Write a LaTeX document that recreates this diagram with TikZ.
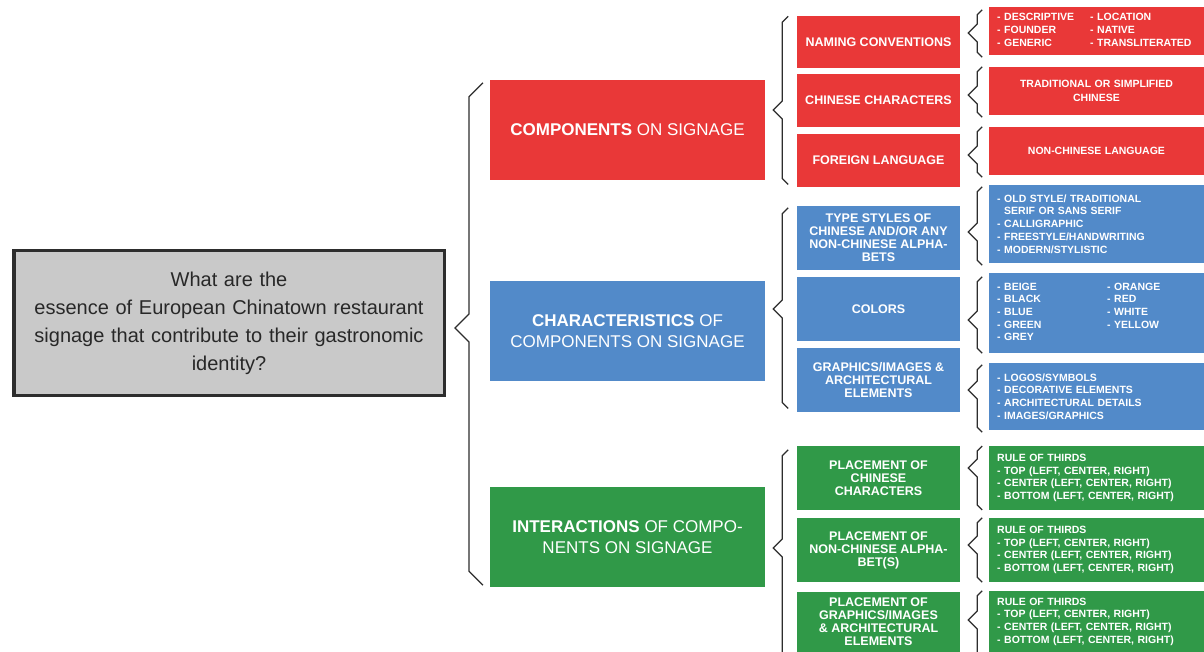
\documentclass[tikz,border=0pt]{standalone}
\usepackage{fontspec}
\setmainfont{Liberation Sans}
\usetikzlibrary{calc}
\definecolor{cred}{RGB}{233,56,56}
\definecolor{cblue}{RGB}{82,138,201}
\definecolor{cgreen}{RGB}{48,153,72}
\definecolor{cgray}{RGB}{201,201,201}
\definecolor{cline}{RGB}{45,45,45}
\definecolor{ctext}{RGB}{40,40,40}
% brace: top coord, tip coord, bottom coord, tip width, end width
\newcommand\brc[5]{%
  \draw[brcline] let \p1=(#1), \p2=(#2), \p3=(#3) in
   (\x2+#4pt+#5pt,\y1) -- (\x2+#4pt,\y1-#5pt) -- (\x2+#4pt,\y2+#4pt) -- (\x2,\y2)
   -- (\x2+#4pt,\y2-#4pt) -- (\x2+#4pt,\y3+#5pt) -- (\x2+#4pt+#5pt,\y3);}
\begin{document}
\begin{tikzpicture}[x=1pt,y=-1pt,
  brcline/.style={draw=cline,line width=1.3pt,line join=miter},
  qbox/.style={draw=cline,line width=3.5pt,fill=cgray,minimum width=430.5pt,minimum height=144.5pt,
    text width=420pt,align=center,inner sep=0pt,text=ctext,font=\fontsize{20}{28}\selectfont},
  lone/.style={minimum width=275pt,minimum height=100pt,inner sep=0pt,text=white,align=center,
    font=\fontsize{17}{21}\selectfont},
  ltwo/.style={minimum width=163pt,inner sep=0pt,text=white,align=center,
    font=\bfseries\fontsize{12.5}{13}\selectfont},
  lthree/.style={anchor=west,inner xsep=8.5pt,inner ysep=0pt,text width=198.5pt,align=left,text=white,
    font=\bfseries\fontsize{10.5}{12.7}\selectfont},
  lthreec/.style={lthree,align=center},
]
\useasboundingbox[fill=white] (0,0) rectangle (1204,652);

% question
\node[qbox] (q) at (229,323) {What are the\\essence of European Chinatown restaurant\\signage that contribute to their gastronomic\\identity?};

% level 1
\node[lone,fill=cred] (comp) at (627.5,130) {\textbf{COMPONENTS} ON SIGNAGE};
\node[lone,fill=cblue] (char) at (627.5,331) {\textbf{CHARACTERISTICS} OF\\COMPONENTS ON SIGNAGE};
\node[lone,fill=cgreen] (inter) at (627.5,537) {\textbf{INTERACTIONS} OF COMPO-\\NENTS ON SIGNAGE};

% level 2
\node[ltwo,fill=cred,minimum height=52pt] (nc) at (878.5,42.5) {NAMING CONVENTIONS};
\node[ltwo,fill=cred,minimum height=52.7pt] (cc) at (878.5,100.3) {CHINESE CHARACTERS};
\node[ltwo,fill=cred,minimum height=52.4pt] (fl) at (878.5,160.5) {FOREIGN LANGUAGE};
\node[ltwo,fill=cblue,minimum height=64pt] (ts) at (878.5,238) {TYPE STYLES OF\\CHINESE AND/OR ANY\\NON-CHINESE ALPHA-\\BETS};
\node[ltwo,fill=cblue,minimum height=63.5pt] (co) at (878.5,309) {COLORS};
\node[ltwo,fill=cblue,minimum height=63.5pt] (gi) at (878.5,380) {GRAPHICS/IMAGES \&\\ARCHITECTURAL\\ELEMENTS};
\node[ltwo,fill=cgreen,minimum height=64pt] (pc) at (878.5,478) {PLACEMENT OF\\CHINESE\\CHARACTERS};
\node[ltwo,fill=cgreen,minimum height=63.5pt] (pn) at (878.5,550) {PLACEMENT OF\\NON-CHINESE ALPHA-\\BET(S)};
\node[ltwo,fill=cgreen,minimum height=61pt] (pg) at (878.5,622) {PLACEMENT OF\\GRAPHICS/IMAGES\\\& ARCHITECTURAL\\ELEMENTS};

% level 3
\node[lthree,fill=cred,minimum height=48pt] (nc3) at (988.5,31) {\begin{tabular}{@{}p{93pt}@{}l@{}}- DESCRIPTIVE & - LOCATION\\- FOUNDER & - NATIVE\\- GENERIC & - TRANSLITERATED\end{tabular}};
\node[lthreec,fill=cred,minimum height=48pt,font=\bfseries\fontsize{10.5}{14}\selectfont] (cc3) at (988.5,91) {TRADITIONAL OR SIMPLIFIED\\CHINESE};
\node[lthreec,fill=cred,minimum height=48pt] (fl3) at (988.5,151) {NON-CHINESE LANGUAGE};
\node[lthree,fill=cblue,minimum height=78pt] (ts3) at (988.5,224) {- OLD STYLE/ TRADITIONAL\\\phantom{- }SERIF OR SANS SERIF\\- CALLIGRAPHIC\\- FREESTYLE/HANDWRITING\\- MODERN/STYLISTIC};
\node[lthree,fill=cblue,minimum height=80pt] (co3) at (988.5,313) {\begin{tabular}{@{}p{110pt}@{}l@{}}- BEIGE & - ORANGE\\- BLACK & - RED\\- BLUE & - WHITE\\- GREEN & - YELLOW\\- GREY & \end{tabular}};
\node[lthree,fill=cblue,minimum height=67pt] (gi3) at (988.5,396.5) {- LOGOS/SYMBOLS\\- DECORATIVE ELEMENTS\\- ARCHITECTURAL DETAILS\\- IMAGES/GRAPHICS};
\node[lthree,fill=cgreen,minimum height=63.5pt] (pc3) at (988.5,478) {RULE OF THIRDS\\- TOP (LEFT, CENTER, RIGHT)\\- CENTER (LEFT, CENTER, RIGHT)\\- BOTTOM (LEFT, CENTER, RIGHT)};
\node[lthree,fill=cgreen,minimum height=64pt] (pn3) at (988.5,550) {RULE OF THIRDS\\- TOP (LEFT, CENTER, RIGHT)\\- CENTER (LEFT, CENTER, RIGHT)\\- BOTTOM (LEFT, CENTER, RIGHT)};
\node[lthree,fill=cgreen,minimum height=61pt] (pg3) at (988.5,621.5) {RULE OF THIRDS\\- TOP (LEFT, CENTER, RIGHT)\\- CENTER (LEFT, CENTER, RIGHT)\\- BOTTOM (LEFT, CENTER, RIGHT)};

% brace tips
\coordinate (tq) at ($(q.east)+(9,5)$);
\coordinate (tcomp) at ($(comp.east)+(8,-20)$);
\coordinate (tchar) at ($(char.east)+(8,-22)$);
\coordinate (tinter) at ($(inter.east)+(8,11)$);
\coordinate (tnc) at ($(nc.east)+(8,-9.5)$);
\coordinate (tcc) at ($(cc.east)+(8,-5.3)$);
\coordinate (tfl) at ($(fl.east)+(8,-5.5)$);
\coordinate (tts) at ($(ts.east)+(8,-6)$);
\coordinate (tco) at ($(co.east)+(8,11)$);
\coordinate (tgi) at ($(gi.east)+(8,10)$);
\coordinate (tpc) at ($(pc.east)+(8,-10)$);
\coordinate (tpn) at ($(pn.east)+(8,-5)$);
\coordinate (tpg) at ($(pg.east)+(8,-2)$);

% braces
\brc{$(comp.north)+(0,3)$}{tq}{$(inter.south)+(0,-2)$}{14}{14}
\brc{nc.north}{tcomp}{$(fl.south)+(0,-2.5)$}{9}{6}
\brc{$(ts.north)+(0,2)$}{tchar}{$(gi.south)+(0,-3.5)$}{9}{6}
\brc{$(pc.north)+(0,4)$}{tinter}{$(pg.south)+(0,8)$}{9}{6}
\brc{$(nc3.north)+(0,3)$}{tnc}{$(nc3.south)+(0,2)$}{9}{5}
\brc{cc3.north}{tcc}{$(cc3.south)+(0,2)$}{9}{5}
\brc{fl3.north}{tfl}{$(fl3.south)+(0,2)$}{9}{5}
\brc{$(ts3.north)+(0,2)$}{tts}{$(ts3.south)+(0,2)$}{9}{5}
\brc{$(co3.north)+(0,4)$}{tco}{co3.south}{9}{5}
\brc{$(gi3.north)+(0,2)$}{tgi}{$(gi3.south)+(0,2)$}{9}{5}
\brc{pc3.north}{tpc}{pc3.south}{9}{5}
\brc{pn3.north}{tpn}{pn3.south}{9}{5}
\brc{pg3.north}{tpg}{$(pg3.south)+(0,8)$}{9}{5}
\end{tikzpicture}
\end{document}
